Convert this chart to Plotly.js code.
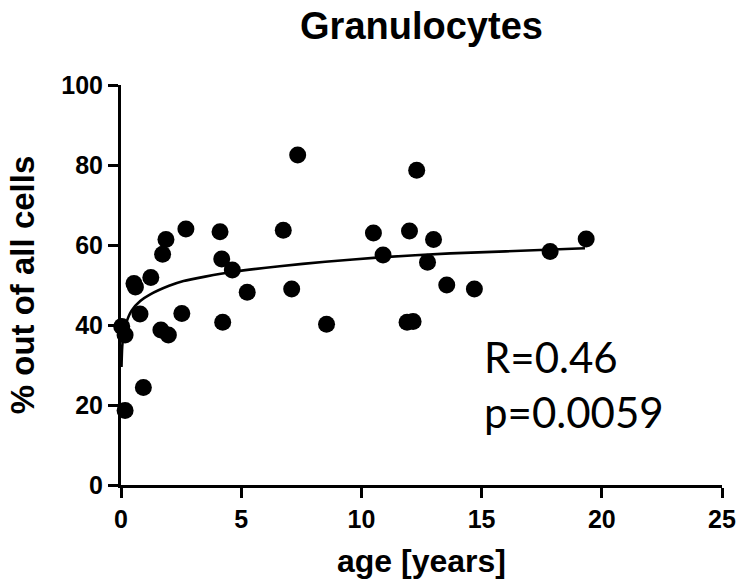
<!DOCTYPE html>
<html>
<head>
<meta charset="utf-8">
<script src="https://cdn.plot.ly/plotly-3.0.1.min.js"></script>
<style>html,body{margin:0;padding:0;background:#fff;}#chart{width:744px;height:581px;}</style>
</head>
<body>
<div id="chart"></div>
<script>
// Observed data: age (years) vs % granulocytes out of all cells
var ageYears = [0.17, 0.03, 0.17, 0.54, 0.6, 0.93, 0.79, 1.24, 1.66, 1.97, 1.73, 1.87, 2.7, 2.53,
  4.12, 4.19, 4.63, 4.23, 5.25, 6.75, 7.35, 7.1, 8.55, 10.5, 10.9, 12.0, 12.3, 11.9, 12.15,
  12.75, 13.0, 13.55, 14.7, 17.85, 19.35];
var granulocytePct = [18.6, 39.6, 37.5, 50.4, 49.5, 24.4, 42.75, 51.9, 38.75, 37.5, 57.7, 61.4, 64, 42.9,
  63.3, 56.5, 53.75, 40.7, 48.2, 63.7, 82.5, 49, 40.2, 63, 57.5, 63.5, 78.7, 40.7, 40.9,
  55.7, 61.4, 50, 49, 58.4, 61.5];

// Fitted curve
var fitAge = [0.02, 0.05, 0.1, 0.2, 0.44, 0.8, 1.2, 2.0, 2.6, 3.5, 4.67, 6.6, 8.5, 10.77, 13.7, 16.0, 19.3];
var fitPct = [29.5, 34.5, 37.4, 40.2, 43.6, 46.0, 47.6, 49.8, 51.0, 52.1, 53.3, 54.7, 55.8, 56.9, 57.9, 58.4, 59.2];

var xTicks = [0, 5, 10, 15, 20, 25];
var yTicks = [0, 20, 40, 60, 80, 100];
var statLabels = ["R=0.46", "p=0.0059"];

var traces = [
  {x: ageYears, y: granulocytePct, type: "scatter", mode: "markers",
   marker: {color: "#000", size: 17}, cliponaxis: false, hoverinfo: "x+y"},
  {x: fitAge, y: fitPct, type: "scatter", mode: "lines",
   line: {color: "#000", width: 2.6, shape: "spline", smoothing: 0.6}, cliponaxis: false}
];

var fam = "Liberation Sans, Arial, sans-serif";
var tickFont = {family: fam, size: 25, color: "#000", weight: "bold"};
var layout = {
  width: 744, height: 581,
  margin: {l: 121, r: 22, t: 85, b: 96},
  paper_bgcolor: "#fff", plot_bgcolor: "#fff",
  showlegend: false,
  title: {text: "<b>Granulocytes</b>", x: 0.5, xref: "paper", xanchor: "center",
          y: 0.955, yref: "container", yanchor: "middle",
          font: {family: fam, size: 38, color: "#000"}},
  xaxis: {range: [0, 25], tickvals: xTicks, ticktext: xTicks.map(String),
          showgrid: false, zeroline: false, showline: true, linecolor: "#000", linewidth: 3,
          ticks: "outside", ticklen: 10, tickwidth: 3, tickcolor: "#000",
          tickfont: tickFont,
          title: {text: "<b>age [years]</b>", standoff: 18,
                  font: {family: fam, size: 32, color: "#000"}}},
  yaxis: {range: [0, 100], tickvals: yTicks, ticktext: yTicks.map(String),
          showgrid: false, zeroline: false, showline: true, linecolor: "#000", linewidth: 3,
          ticks: "outside", ticklen: 10, tickwidth: 3, tickcolor: "#000",
          tickfont: tickFont,
          title: {text: "<b>% out of all cells</b>", standoff: 17,
                  font: {family: fam, size: 33, color: "#000"}}},
  annotations: [
    {x: 15.0, y: 32, xref: "x", yref: "y", xanchor: "left", yanchor: "middle", showarrow: false,
     text: statLabels[0], font: {family: "Lato, Open Sans, sans-serif", size: 42, color: "#000"}},
    {x: 15.0, y: 18.3, xref: "x", yref: "y", xanchor: "left", yanchor: "middle", showarrow: false,
     text: statLabels[1], font: {family: "Lato, Open Sans, sans-serif", size: 42, color: "#000"}}
  ]
};
Plotly.newPlot("chart", traces, layout, {displayModeBar: false, staticPlot: true});
</script>
</body>
</html>
